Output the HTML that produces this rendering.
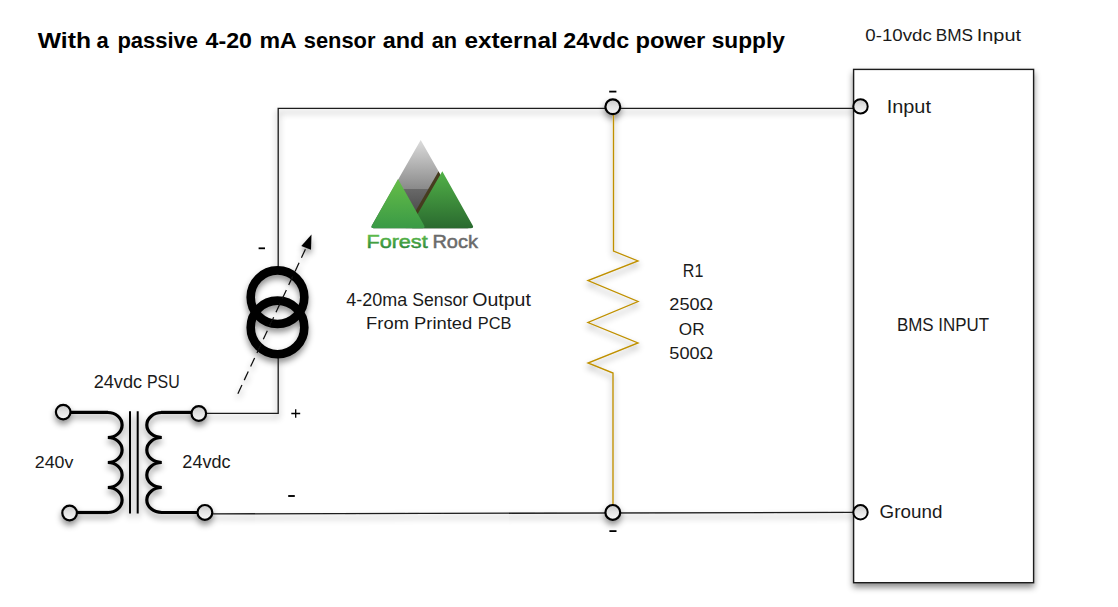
<!DOCTYPE html>
<html><head><meta charset="utf-8"><style>
html,body{margin:0;padding:0;background:#fff;}
#c{position:relative;width:1118px;height:607px;overflow:hidden;background:#fff;}
svg{position:absolute;left:0;top:0;}
text{font-family:"Liberation Sans",sans-serif;}
</style></head><body><div id="c">
<svg width="1118" height="607" viewBox="0 0 1118 607">
<defs>
<filter id="sh" x="-20%" y="-20%" width="140%" height="140%">
<feDropShadow dx="0" dy="4" stdDeviation="3" flood-color="#000" flood-opacity="0.45"/>
</filter>
<linearGradient id="gGray" x1="0" y1="140" x2="0" y2="215" gradientUnits="userSpaceOnUse">
<stop offset="0" stop-color="#dcdcdc"/><stop offset="0.65" stop-color="#8a8a8a"/><stop offset="0.66" stop-color="#686868"/><stop offset="1" stop-color="#4a4a4a"/>
</linearGradient>
<linearGradient id="gLG" x1="0" y1="178" x2="0" y2="228" gradientUnits="userSpaceOnUse">
<stop offset="0" stop-color="#67be48"/><stop offset="1" stop-color="#3a9a46"/>
</linearGradient>
<linearGradient id="gRG" x1="0" y1="171" x2="0" y2="228" gradientUnits="userSpaceOnUse">
<stop offset="0" stop-color="#52b248"/><stop offset="1" stop-color="#2a6a2f"/>
</linearGradient>
<linearGradient id="gForest" x1="0" y1="234" x2="0" y2="248" gradientUnits="userSpaceOnUse">
<stop offset="0" stop-color="#62c04c"/><stop offset="1" stop-color="#2e8a3a"/>
</linearGradient>
<linearGradient id="gTerm" x1="0" y1="0" x2="0" y2="1">
<stop offset="0" stop-color="#c8c8c8"/><stop offset="0.45" stop-color="#e2e2e2"/><stop offset="1" stop-color="#f8f8f8"/>
</linearGradient>
<clipPath id="cpGray"><path d="M420.70,139.90 L372.04,225.16 Q370.30,228.20 373.80,228.20 L467.60,228.20 Q471.10,228.20 469.36,225.16 Z"/></clipPath>
</defs>

<g filter="url(#sh)" fill="none" stroke="#1a1a1a" stroke-width="1.3">
<rect x="853.6" y="69.4" width="180" height="513.3" fill="#fff" stroke-width="1.4"/>
<path d="M278.2,270 V108.3 H853.5"/>
<path d="M278.2,355 V413.4 H206"/>
<path d="M210,513.25 L853.5,511.75 L853.5,513.05 L210,514.55 Z" fill="#1a1a1a" stroke="none"/>
<path d="M613.5,108 V251 L638,261 L588,280.5 L638,301.5 L588,322.5 L638,343 L588,363 L613,373 V512.5" stroke="#BF9000" stroke-width="1.35" stroke-linejoin="miter"/>
<!-- transformer -->
<g stroke="#000" stroke-width="3.2">
<path d="M71,412.4 H108"/>
<path d="M107.8,412.5 A14.3,12.5 0 0 1 107.8,437.5 A14.3,12.5 0 0 1 107.8,462.5 A14.3,12.5 0 0 1 107.8,487.5 A14.3,12.5 0 0 1 107.8,512.5"/>
<path d="M108,512.5 H77"/>
<path d="M161,412.4 H191"/>
<path d="M161.8,412.5 A15.0,12.5 0 0 0 161.8,437.5 A15.0,12.5 0 0 0 161.8,462.5 A15.0,12.5 0 0 0 161.8,487.5 A15.0,12.5 0 0 0 161.8,512.5"/>
<path d="M161,512.5 H197"/>
</g>
<path d="M130,411.3 V513.4 M137.7,411.3 V513.4" stroke="#000" stroke-width="2"/>
<!-- current source -->
<circle cx="277.5" cy="297.2" r="26.8" stroke="#000" stroke-width="8.6"/>
<circle cx="277.5" cy="327.4" r="26.8" stroke="#000" stroke-width="8.6"/>
<path d="M237.9,393.7 L306,248" stroke="#111" stroke-width="1.25" stroke-dasharray="9.5,5.5"/>
<path d="M311.5,234.5 L301.3,246 L311,249.7 Z" fill="#000" stroke="none"/>
<!-- terminals -->
<g stroke="#000" stroke-width="2" fill="url(#gTerm)">
<circle cx="612.8" cy="106.8" r="7.4" stroke-width="2.2"/>
<circle cx="860.5" cy="106.4" r="7.2"/>
<circle cx="612.8" cy="512.4" r="7.4" stroke-width="2.2"/>
<circle cx="860.5" cy="512.3" r="7.2"/>
<circle cx="63.2" cy="412.1" r="7.3" stroke-width="2.2"/>
<circle cx="198.8" cy="413.5" r="7.3" stroke-width="2.2"/>
<circle cx="69.6" cy="513" r="7.3" stroke-width="2.2"/>
<circle cx="204.9" cy="512.4" r="7.4" stroke-width="2.2"/>
</g>
</g>

<!-- signs -->
<g stroke="#000" stroke-width="1.5">
<path d="M258.6,248.3 H265" stroke-width="1.8"/>
<path d="M291.3,413.5 H300.2 M295.7,409.3 V417.7" stroke-width="1.3"/>
<path d="M288.2,496 H294.8" stroke-width="1.9"/>
<path d="M609.2,91.6 H616.4" stroke-width="1.8"/>
<path d="M609.4,531.1 H616.5" stroke-width="1.8"/>
</g>

<!-- logo -->
<g>
<path d="M420.70,139.90 L372.04,225.16 Q370.30,228.20 373.80,228.20 L467.60,228.20 Q471.10,228.20 469.36,225.16 Z" fill="url(#gGray)"/>
<path d="M438.60,171.20 L405.75,228.11 Q405.70,228.20 405.80,228.20 L470.50,228.20 Q470.60,228.20 470.55,228.11 Z" fill="#463c1f" clip-path="url(#cpGray)"/>
<path d="M442.30,171.20 L411.15,225.17 Q409.40,228.20 412.90,228.20 L470.80,228.20 Q474.30,228.20 472.59,225.15 Z" fill="url(#gRG)"/>
<path d="M398.00,178.90 L372.01,225.15 Q370.30,228.20 373.80,228.20 L422.20,228.20 Q425.70,228.20 423.99,225.15 Z" fill="url(#gLG)"/>
</g>

<text x="37.80" y="48.30" font-size="22.53" font-weight="bold" fill="#000" textLength="53.21" lengthAdjust="spacingAndGlyphs" >With</text>
<text x="96.43" y="48.30" font-size="22.53" font-weight="bold" fill="#000" textLength="12.22" lengthAdjust="spacingAndGlyphs" >a</text>
<text x="117.42" y="48.30" font-size="22.53" font-weight="bold" fill="#000" textLength="80.58" lengthAdjust="spacingAndGlyphs" >passive</text>
<text x="205.60" y="48.30" font-size="22.53" font-weight="bold" fill="#000" textLength="46.41" lengthAdjust="spacingAndGlyphs" >4-20</text>
<text x="259.47" y="48.30" font-size="22.53" font-weight="bold" fill="#000" textLength="37.32" lengthAdjust="spacingAndGlyphs" >mA</text>
<text x="303.73" y="48.30" font-size="22.53" font-weight="bold" fill="#000" textLength="71.72" lengthAdjust="spacingAndGlyphs" >sensor</text>
<text x="382.66" y="48.30" font-size="22.53" font-weight="bold" fill="#000" textLength="41.72" lengthAdjust="spacingAndGlyphs" >and</text>
<text x="431.63" y="48.30" font-size="22.53" font-weight="bold" fill="#000" textLength="25.41" lengthAdjust="spacingAndGlyphs" >an</text>
<text x="464.42" y="48.30" font-size="22.53" font-weight="bold" fill="#000" textLength="93.25" lengthAdjust="spacingAndGlyphs" >external</text>
<text x="563.27" y="48.30" font-size="22.53" font-weight="bold" fill="#000" textLength="65.90" lengthAdjust="spacingAndGlyphs" >24vdc</text>
<text x="635.55" y="48.30" font-size="22.53" font-weight="bold" fill="#000" textLength="69.78" lengthAdjust="spacingAndGlyphs" >power</text>
<text x="711.69" y="48.30" font-size="22.53" font-weight="bold" fill="#000" textLength="73.18" lengthAdjust="spacingAndGlyphs" >supply</text>
<text x="865.29" y="40.50" font-size="16.86" font-weight="normal" fill="#1a1a1a" textLength="66.50" lengthAdjust="spacingAndGlyphs" >0-10vdc</text>
<text x="935.78" y="40.50" font-size="16.86" font-weight="normal" fill="#1a1a1a" textLength="37.28" lengthAdjust="spacingAndGlyphs" >BMS</text>
<text x="976.72" y="40.50" font-size="16.86" font-weight="normal" fill="#1a1a1a" textLength="44.27" lengthAdjust="spacingAndGlyphs" >Input</text>
<text x="886.65" y="112.60" font-size="17.73" font-weight="normal" fill="#1a1a1a" textLength="44.32" lengthAdjust="spacingAndGlyphs" >Input</text>
<text x="879.64" y="517.90" font-size="17.73" font-weight="normal" fill="#1a1a1a" textLength="62.74" lengthAdjust="spacingAndGlyphs" >Ground</text>
<text x="896.94" y="330.90" font-size="17.73" font-weight="normal" fill="#1a1a1a" textLength="36.75" lengthAdjust="spacingAndGlyphs" >BMS</text>
<text x="938.29" y="330.90" font-size="17.73" font-weight="normal" fill="#1a1a1a" textLength="50.76" lengthAdjust="spacingAndGlyphs" >INPUT</text>
<text x="682.80" y="276.80" font-size="17.73" font-weight="normal" fill="#1a1a1a" textLength="20.50" lengthAdjust="spacingAndGlyphs" >R1</text>
<text x="669.34" y="310.00" font-size="17.15" font-weight="normal" fill="#1a1a1a" textLength="43.80" lengthAdjust="spacingAndGlyphs" >250Ω</text>
<text x="678.88" y="335.10" font-size="16.86" font-weight="normal" fill="#1a1a1a" textLength="25.74" lengthAdjust="spacingAndGlyphs" >OR</text>
<text x="669.34" y="359.30" font-size="17.15" font-weight="normal" fill="#1a1a1a" textLength="43.80" lengthAdjust="spacingAndGlyphs" >500Ω</text>
<text x="346.30" y="305.60" font-size="17.44" font-weight="normal" fill="#1a1a1a" textLength="60.93" lengthAdjust="spacingAndGlyphs" >4-20ma</text>
<text x="412.29" y="305.60" font-size="17.44" font-weight="normal" fill="#1a1a1a" textLength="55.86" lengthAdjust="spacingAndGlyphs" >Sensor</text>
<text x="472.18" y="305.60" font-size="17.44" font-weight="normal" fill="#1a1a1a" textLength="58.72" lengthAdjust="spacingAndGlyphs" >Output</text>
<text x="366.13" y="329.40" font-size="17.15" font-weight="normal" fill="#1a1a1a" textLength="42.84" lengthAdjust="spacingAndGlyphs" >From</text>
<text x="414.03" y="329.40" font-size="17.15" font-weight="normal" fill="#1a1a1a" textLength="58.28" lengthAdjust="spacingAndGlyphs" >Printed</text>
<text x="477.85" y="329.40" font-size="17.15" font-weight="normal" fill="#1a1a1a" textLength="33.65" lengthAdjust="spacingAndGlyphs" >PCB</text>
<text x="93.68" y="387.90" font-size="17.73" font-weight="normal" fill="#1a1a1a" textLength="48.43" lengthAdjust="spacingAndGlyphs" >24vdc</text>
<text x="146.90" y="387.90" font-size="17.73" font-weight="normal" fill="#1a1a1a" textLength="32.79" lengthAdjust="spacingAndGlyphs" >PSU</text>
<text x="34.76" y="467.70" font-size="17.15" font-weight="normal" fill="#1a1a1a" textLength="38.62" lengthAdjust="spacingAndGlyphs" >240v</text>
<text x="182.36" y="467.70" font-size="17.44" font-weight="normal" fill="#1a1a1a" textLength="48.19" lengthAdjust="spacingAndGlyphs" >24vdc</text>
<text x="366.46" y="247.70" font-size="18.9" font-weight="normal" fill="url(#gForest)" textLength="61.23" lengthAdjust="spacingAndGlyphs" stroke="url(#gForest)" stroke-width="0.5">Forest</text>
<text x="432.44" y="247.70" font-size="18.9" font-weight="normal" fill="#6b6b6b" textLength="45.51" lengthAdjust="spacingAndGlyphs" stroke="#6b6b6b" stroke-width="0.5">Rock</text>
</svg>
</div></body></html>
